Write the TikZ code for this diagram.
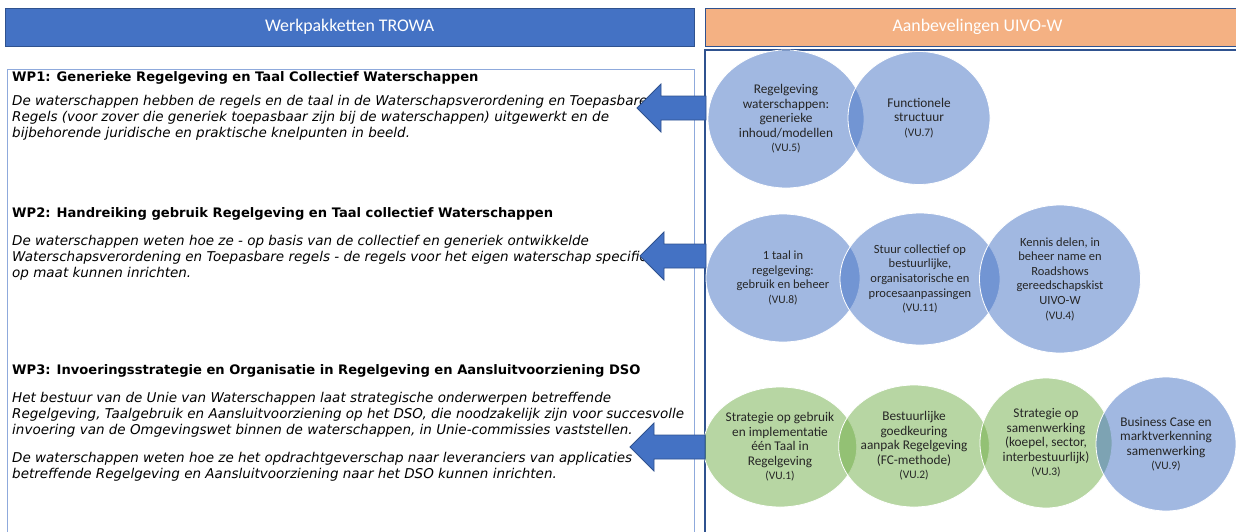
\documentclass[tikz,border=0pt]{standalone}
\usepackage{fontspec}
\setmainfont{Carlito}
\newfontfamily\wpfont{DejaVu Sans}
\usetikzlibrary{shapes.geometric}

\definecolor{hdrblue}{HTML}{4472C4}
\definecolor{hdrline}{HTML}{2F528F}
\definecolor{hdrorange}{HTML}{F4B183}
\definecolor{boxline}{HTML}{8FAADC}
\definecolor{vugreen}{HTML}{70AD47}

\newcommand{\vucode}[1]{{\fontsize{11.5}{14.6}\selectfont #1}}

\tikzset{
  header/.style={rectangle, draw=hdrline, line width=1pt, text=white, inner sep=0pt,
    minimum height=37.5pt, font=\fontsize{17.8}{20}\selectfont},
  wptitle/.style={anchor=base west, inner sep=0pt, font=\wpfont\bfseries\fontsize{13.1}{16}\selectfont},
  wpbody/.style={anchor=north west, inner sep=0pt, align=left, font=\wpfont\itshape\fontsize{13.5}{16}\selectfont},
  vu/.style={ellipse, draw=white, line width=0.8pt, fill opacity=0.5, text opacity=1, inner sep=0pt,
    align=center, text=black!85, font=\fontsize{12.5}{14.6}\selectfont},
  vublue/.style={vu, fill=hdrblue},
  vugreen/.style={vu, fill=vugreen},
  bigvu/.style={font=\fontsize{13.3}{14.5}\selectfont},
  bigarrow/.style={fill=hdrblue, draw=hdrline, line width=0.8pt, line join=miter},
}

\begin{document}
\begin{tikzpicture}[x=1pt, y=-1pt]
\useasboundingbox (0,0) rectangle (1236,531);
\clip (0,0) rectangle (1236,531);

% headers
\node[header, fill=hdrblue, minimum width=689pt] (trowa) at (349.5,27.25) {Werkpakketten TROWA};
\node[header, fill=hdrorange, minimum width=545pt] (uivo) at (977.5,27.25) {Aanbevelingen UIVO-W};

% frames
\draw[boxline, line width=0.8pt] (7,69) rectangle (694,545); % left frame
\draw[hdrline, line width=1.2pt] (705,50) rectangle (1250,545); % right frame

% work packages (body nodes: first baseline = y + 11.2)
\node[wptitle] (wp1) at (12,81) {WP1: Generieke Regelgeving en Taal Collectief Waterschappen};
\node[wpbody] (wp1txt) at (12,93.8) {\strut De waterschappen hebben de regels en de taal in de Waterschapsverordening en Toepasbare\\
Regels (voor zover die generiek toepasbaar zijn bij de waterschappen) uitgewerkt en de\\
bijbehorende juridische en praktische knelpunten in beeld.};

\node[wptitle] (wp2) at (12,217) {WP2: Handreiking gebruik Regelgeving en Taal collectief Waterschappen};
\node[wpbody] (wp2txt) at (12,233.8) {\strut De waterschappen weten hoe ze - op basis van de collectief en generiek ontwikkelde\\
Waterschapsverordening en Toepasbare regels - de regels voor het eigen waterschap specifiek\\
op maat kunnen inrichten.};

\node[wptitle] (wp3) at (12,374) {WP3: Invoeringsstrategie en Organisatie in Regelgeving en Aansluitvoorziening DSO};
\node[wpbody] (wp3txt) at (12,390.8) {\strut Het bestuur van de Unie van Waterschappen laat strategische onderwerpen betreffende\\
Regelgeving, Taalgebruik en Aansluitvoorziening op het DSO, die noodzakelijk zijn voor succesvolle\\
invoering van de Omgevingswet binnen de waterschappen, in Unie-commissies vaststellen.\\[12pt]
De waterschappen weten hoe ze het opdrachtgeverschap naar leveranciers van applicaties\\
betreffende Regelgeving en Aansluitvoorziening naar het DSO kunnen inrichten.};

% recommendations, row 1
\node[vublue, bigvu, minimum width=156pt, minimum height=138pt] (vu5) at (786,119)
  {Regelgeving\\waterschappen:\\generieke\\inhoud/modellen\\\vucode{(VU.5)}};
\node[vublue, bigvu, minimum width=142pt, minimum height=133pt] (vu7) at (919,118)
  {Functionele\\structuur\\\vucode{(VU.7)}};

% row 2
\node[vublue, minimum width=154pt, minimum height=128pt] (vu8) at (783,278)
  {1 taal in\\regelgeving:\\gebruik en beheer\\\vucode{(VU.8)}};
\node[vublue, minimum width=160pt, minimum height=132pt] (vu11) at (920,279)
  {Stuur collectief op\\bestuurlijke,\\organisatorische en\\procesaanpassingen\\\vucode{(VU.11)}};
\node[vublue, minimum width=161pt, minimum height=148pt] (vu4) at (1060,279)
  {Kennis delen, in\\beheer name en\\Roadshows\\gereedschapskist\\UIVO-W\\\vucode{(VU.4)}};

% row 3
\node[vugreen, bigvu, minimum width=152pt, minimum height=120pt] (vu1) at (780,447)
  {Strategie op gebruik\\en implementatie\\één Taal in\\Regelgeving\\\vucode{(VU.1)}};
\node[vugreen, bigvu, minimum width=150pt, minimum height=122pt] (vu2) at (914,446)
  {Bestuurlijke\\goedkeuring\\aanpak Regelgeving\\(FC-methode)\\\vucode{(VU.2)}};
\node[vugreen, bigvu, minimum width=132pt, minimum height=130pt] (vu3) at (1046,443)
  {Strategie op\\samenwerking\\(koepel, sector,\\interbestuurlijk)\\\vucode{(VU.3)}};
\node[vublue, bigvu, minimum width=140pt, minimum height=134pt] (vu9) at (1166,444)
  {Business Case en\\marktverkenning\\samenwerking\\\vucode{(VU.9)}};

% arrows towards the work packages
\draw[bigarrow] (637,108) -- ++(24,-24) -- ++(0,12) -- ++(45,0) -- ++(0,24) -- ++(-45,0) -- ++(0,12) -- cycle;
\draw[bigarrow] (640,256) -- ++(24,-24) -- ++(0,12) -- ++(42,0) -- ++(0,24) -- ++(-42,0) -- ++(0,12) -- cycle;
\draw[bigarrow] (630,447) -- ++(24,-24) -- ++(0,12) -- ++(51,0) -- ++(0,24) -- ++(-51,0) -- ++(0,12) -- cycle;

\end{tikzpicture}
\end{document}
